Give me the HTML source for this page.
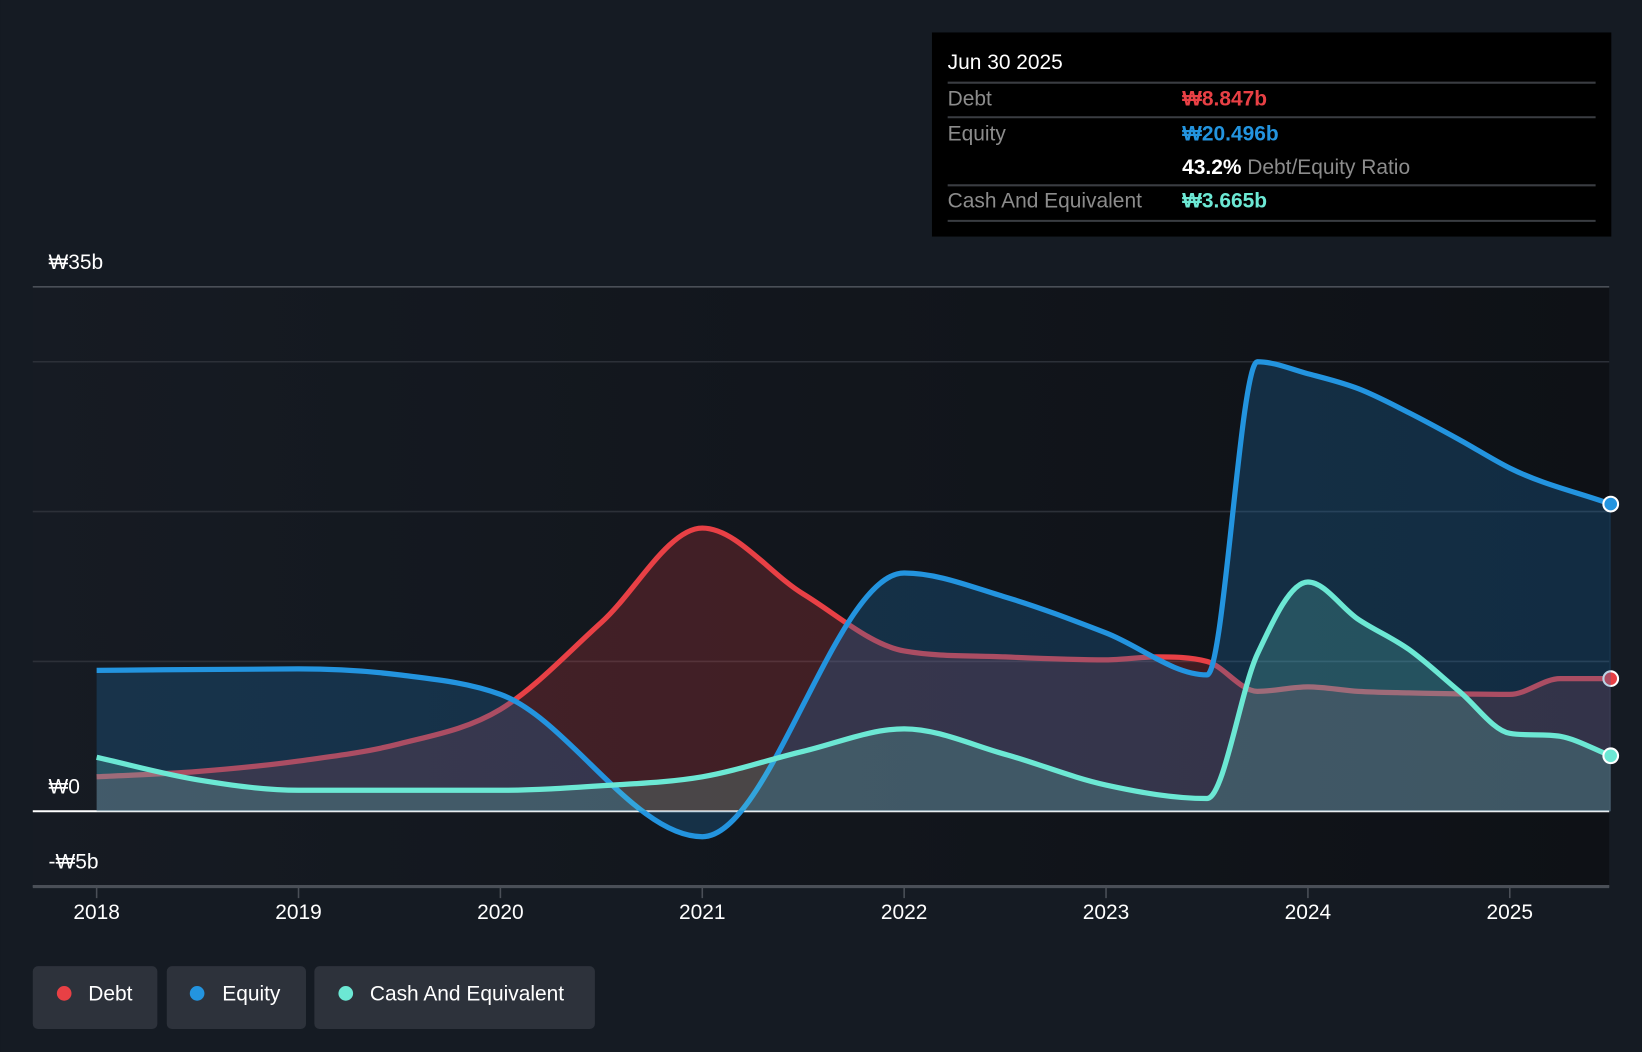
<!DOCTYPE html>
<html><head><meta charset="utf-8"><style>
html,body{margin:0;padding:0;background:#151b23;}
svg{display:block;font-family:"Liberation Sans",sans-serif;}
</style></head><body>
<svg id="chart" width="1642" height="1052" viewBox="0 0 1568 1005" xmlns="http://www.w3.org/2000/svg">
<defs>
<linearGradient id="plotbg" x1="0" x2="1" y1="0" y2="0"><stop offset="0" stop-color="#161b23"/><stop offset="1" stop-color="#0e1116"/></linearGradient>
</defs>
<rect x="0" y="0" width="1568" height="1005" fill="#151b23"/>
<rect x="31" y="274" width="1506" height="573" fill="url(#plotbg)"/>
<g id="grid"></g>
<g id="series"></g>
<g id="axes"></g>
<g>
<rect x="890" y="31" width="649" height="195" fill="#000"/>
<text x="905" y="66" fill="#fff" font-size="20">Jun 30 2025</text>
<line x1="905" x2="1524" y1="79" y2="79" stroke="#3a3d42" stroke-width="2"/>
<text x="905" y="101" fill="#8c8c8c" font-size="20">Debt</text>
<text x="1129" y="101" fill="#e84045" font-size="20" font-weight="bold">₩8.847b</text>
<line x1="905" x2="1524" y1="112" y2="112" stroke="#3a3d42" stroke-width="2"/>
<text x="905" y="134" fill="#8c8c8c" font-size="20">Equity</text>
<text x="1129" y="134" fill="#2394df" font-size="20" font-weight="bold">₩20.496b</text>
<text x="1129" y="166" fill="#fff" font-size="20" font-weight="bold">43.2% <tspan fill="#8c8c8c" font-weight="normal">Debt/Equity Ratio</tspan></text>
<line x1="905" x2="1524" y1="177" y2="177" stroke="#3a3d42" stroke-width="2"/>
<text x="905" y="198" fill="#8c8c8c" font-size="20">Cash And Equivalent</text>
<text x="1129" y="198" fill="#6ce8d4" font-size="20" font-weight="bold">₩3.665b</text>
<line x1="905" x2="1524" y1="211" y2="211" stroke="#3a3d42" stroke-width="2"/>
</g>
<g>
<g><rect x="31" y="923" width="119" height="60" rx="5" fill="#2d323b"/><circle cx="61" cy="949" r="7" fill="#e84045"/><text x="84" y="956" fill="#fff" font-size="20">Debt</text></g>
<g><rect x="159" y="923" width="133" height="60" rx="5" fill="#2d323b"/><circle cx="188" cy="949" r="7" fill="#2394df"/><text x="212" y="956" fill="#fff" font-size="20">Equity</text></g>
<g><rect x="300" y="923" width="268" height="60" rx="5" fill="#2d323b"/><circle cx="330" cy="949" r="7" fill="#6ce8d4"/><text x="353" y="956" fill="#fff" font-size="20">Cash And Equivalent</text></g>
</g>
</svg>
<script>
const debtX=[2018,2018.5,2019,2019.5,2020,2020.5,2021,2021.5,2022,2022.5,2023,2023.25,2023.5,2023.75,2024,2024.25,2024.5,2025,2025.25,2025.5];
const debtV=[2.3,2.65,3.35,4.5,6.8,12.6,18.9,14.5,10.7,10.3,10.1,10.3,10,8,8.3,8,7.9,7.8,8.85,8.85];
const equityX=[2018,2019,2019.5,2020,2021,2022,2022.5,2023,2023.5,2023.75,2024,2024.25,2024.5,2024.75,2025,2025.5];
const equityV=[9.4,9.5,9.1,7.8,-1.7,15.9,14.3,11.9,9.1,30,29.2,28.2,26.6,24.8,22.9,20.5];
const cashX=[2018,2018.5,2019,2020,2020.5,2021,2021.5,2022,2022.5,2023,2023.5,2023.75,2024,2024.25,2024.5,2024.75,2025,2025.25,2025.5];
const cashV=[3.6,2.1,1.4,1.4,1.7,2.3,4,5.5,3.8,1.75,0.85,10.5,15.3,12.8,10.8,8,5.2,5,3.7];
const yTicks=[35,30,20,10,0,-5];
const yLabels=["₩35b","","","","₩0","-₩5b"];
const xTicks=[2018,2019,2020,2021,2022,2023,2024,2025];

const NS="http://www.w3.org/2000/svg";
const xs=t=>92+(t-2018)*192.86;
const ys=v=>775-v*14.314;
function mk(tag,attrs,parent){const e=document.createElementNS(NS,tag);for(const k in attrs)e.setAttribute(k,attrs[k]);parent.appendChild(e);return e;}
function monoPath(X,Y){
  const n=X.length,px=X.map(xs),py=Y.map(ys);const d=[],m=[];
  for(let i=0;i<n-1;i++)d.push((py[i+1]-py[i])/(px[i+1]-px[i]));
  m[0]=d[0];m[n-1]=d[n-2];
  for(let i=1;i<n-1;i++){
    if(d[i-1]*d[i]<=0){m[i]=0;continue;}
    let v=(d[i-1]*(px[i+1]-px[i])+d[i]*(px[i]-px[i-1]))/(px[i+1]-px[i-1]);
    const lim=3*Math.min(Math.abs(d[i-1]),Math.abs(d[i]));
    if(Math.abs(v)>lim)v=Math.sign(v)*lim;
    m[i]=v;
  }
  let s=`M${px[0]},${py[0]}`;
  for(let i=0;i<n-1;i++){const h=(px[i+1]-px[i])/3;s+=` C${px[i]+h},${py[i]+m[i]*h} ${px[i+1]-h},${py[i+1]-m[i+1]*h} ${px[i+1]},${py[i+1]}`;}
  return s;
}
const grid=document.getElementById('grid');
yTicks.forEach((v,i)=>{
  const l=mk('line',{x1:31,x2:1537,y1:ys(v),y2:ys(v),stroke:v===0?'#ffffff':(v===35||v===-5?'#4a4f57':'#2c3038'),'stroke-width':v===0?2:1.5},grid);
  
  
  if(yLabels[i]){const t=mk('text',{x:46,y:ys(v)-17,fill:'#fff','font-size':20},grid);t.textContent=yLabels[i];
  
  }
});
const axes=document.getElementById('axes');
const xa=mk('line',{x1:31,x2:1537,y1:847,y2:847,stroke:'#4a4f57','stroke-width':3},axes);


xTicks.forEach(t=>{
  mk('line',{x1:xs(t),x2:xs(t),y1:848,y2:858,stroke:'#4a4f57','stroke-width':1.5},axes);
  const tx=mk('text',{x:xs(t),y:878,fill:'#fff','font-size':20,'text-anchor':'middle'},axes);tx.textContent=t;
  
  
});
const ser=document.getElementById('series');
function series(name,X,Y,col,fill,op){
  const p=monoPath(X,Y);
  const a=mk('path',{d:p+` L${xs(X[X.length-1])},${ys(0)} L${xs(X[0])},${ys(0)} Z`,fill:fill,'fill-opacity':op},ser);
  
  
  const l=mk('path',{d:p,fill:'none',stroke:col,'stroke-width':5,'stroke-linejoin':'round'},ser);
  
  
  const c=mk('circle',{cx:xs(X[X.length-1]),cy:ys(Y[Y.length-1]),r:7,fill:col,stroke:'#fff','stroke-width':2},ser);
  
  
}
series('debt',debtX,debtV,'#e84045','#e84045',0.22);
series('equity',equityX,equityV,'#2394df','#1d6ca8',0.3);
series('cash',cashX,cashV,'#6ce8d4','#6ce8d4',0.2);
</script>
</body></html>
